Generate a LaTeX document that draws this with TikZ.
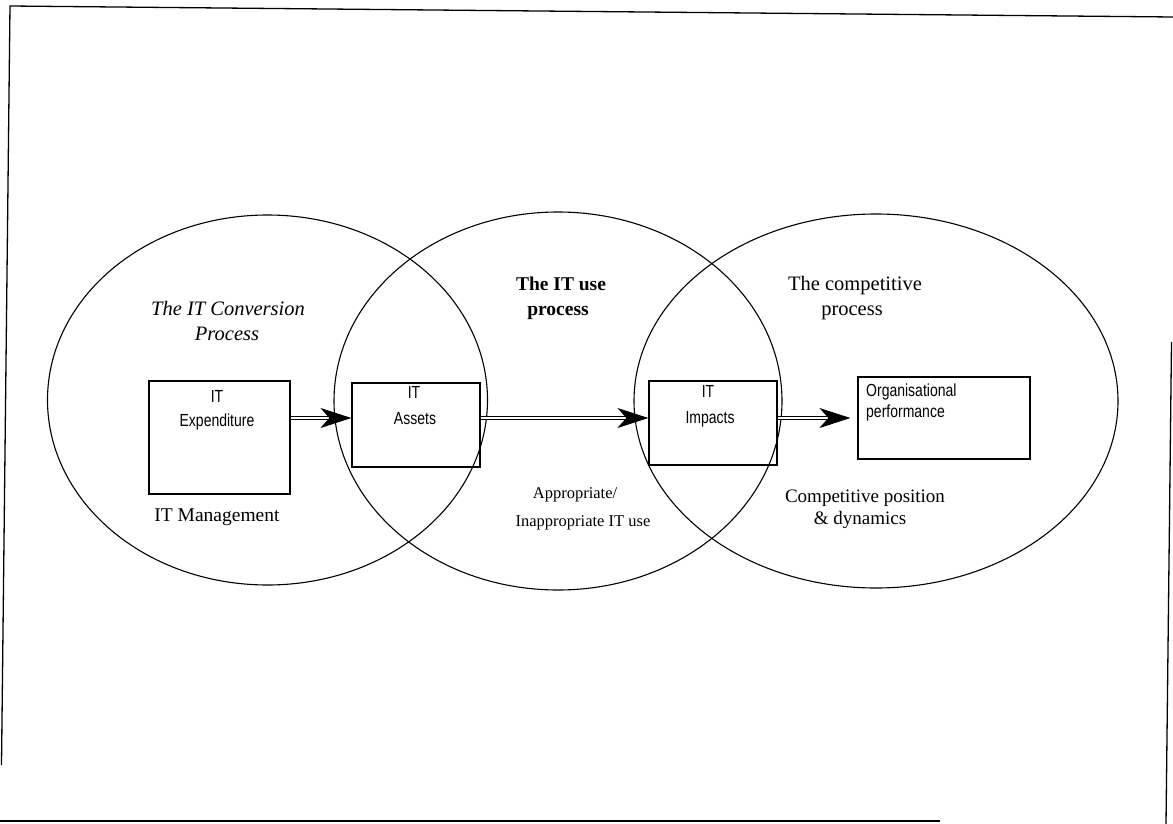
\documentclass[tikz,border=0pt]{standalone}
\usepackage{fontspec}
\setmainfont{Liberation Serif}
\newfontfamily\boxfont[FakeStretch=0.8]{Liberation Sans}
\usetikzlibrary{arrows.meta}
\tikzset{
  frameline/.style={line width=1.3pt},
  procell/.style={draw, line width=1.1pt},
  stagebox/.style={draw, line width=1.2pt, rectangle, inner sep=0pt},
  boxtext/.style={font=\boxfont\fontsize{17.5}{20}\selectfont, anchor=base, inner sep=0pt},
  titletext/.style={font=\fontsize{20.5}{24}\selectfont, anchor=base, inner sep=0pt},
  labeltext/.style={font=\fontsize{16.5}{20}\selectfont, anchor=base, inner sep=0pt},
  flowarrow/.style={double, double distance=2.4pt, line width=0.9pt,
    -{Stealth[length=31pt, width=20pt, inset=9pt]}}
}
\begin{document}
\begin{tikzpicture}[x=1pt, y=-1pt]
\useasboundingbox (0,0) rectangle (1173,824);
% frame
\draw[frameline] (1173,17) -- (10,6) -- (1.5,765);
\draw[frameline] (0,821) -- (940,821);
\draw[frameline] (1171.5,342) -- (1166,824);
% process ellipses
\draw[procell] (267.5,400) ellipse [x radius=220, y radius=185];
\draw[procell] (558,401) ellipse [x radius=224, y radius=189];
\draw[procell] (876,401) ellipse [x radius=242, y radius=187];
% boxes
\node[stagebox, minimum width=141pt, minimum height=113pt] (exp) at (219.5,437.5) {};
\node[stagebox, minimum width=128pt, minimum height=84pt] (assets) at (416,425) {};
\node[stagebox, minimum width=128pt, minimum height=84pt] (impacts) at (713,423) {};
\node[stagebox, minimum width=172pt, minimum height=82pt] (org) at (944,418) {};
% box texts
\node[boxtext] (expA) at (217,402) {IT};
\node[boxtext] (expB) at (217,426) {Expenditure};
\node[boxtext] (assA) at (414,398) {IT};
\node[boxtext] (assB) at (415,424) {Assets};
\node[boxtext] (impA) at (708,397) {IT};
\node[boxtext] (impB) at (710,423) {Impacts};
\node[boxtext, anchor=base west] (orgA) at (866,396) {Organisational};
\node[boxtext, anchor=base west] (orgB) at (866,417) {performance};
% titles
\node[titletext, font=\itshape\fontsize{20.5}{24}\selectfont] (t1a) at (228,315) {The IT Conversion};
\node[titletext, font=\itshape\fontsize{20.5}{24}\selectfont] (t1b) at (227,340) {Process};
\node[titletext, font=\bfseries\fontsize{19.5}{24}\selectfont] (t2a) at (561,290) {The IT use};
\node[titletext, font=\bfseries\fontsize{19.5}{24}\selectfont] (t2b) at (558,315) {process};
\node[titletext] (t3a) at (855,290) {The competitive};
\node[titletext] (t3b) at (852,315) {process};
% lower labels
\node[labeltext, font=\fontsize{19.5}{20}\selectfont] (l1) at (217,521) {IT Management};
\node[labeltext] (l2a) at (575,498) {Appropriate/};
\node[labeltext] (l2b) at (583,526) {Inappropriate IT use};
\node[labeltext, font=\fontsize{19}{20}\selectfont] (l3a) at (865,502) {Competitive position};
\node[labeltext, font=\fontsize{19}{20}\selectfont] (l3b) at (860,524) {\& dynamics};
% arrows
\draw[flowarrow] (exp.east |- 0,418) -- (assets.west |- 0,418);
\draw[flowarrow] (assets.east |- 0,418) -- (impacts.west |- 0,418);
\draw[flowarrow, shorten >=7pt] (impacts.east |- 0,418) -- (org.west |- 0,418);
\end{tikzpicture}
\end{document}
